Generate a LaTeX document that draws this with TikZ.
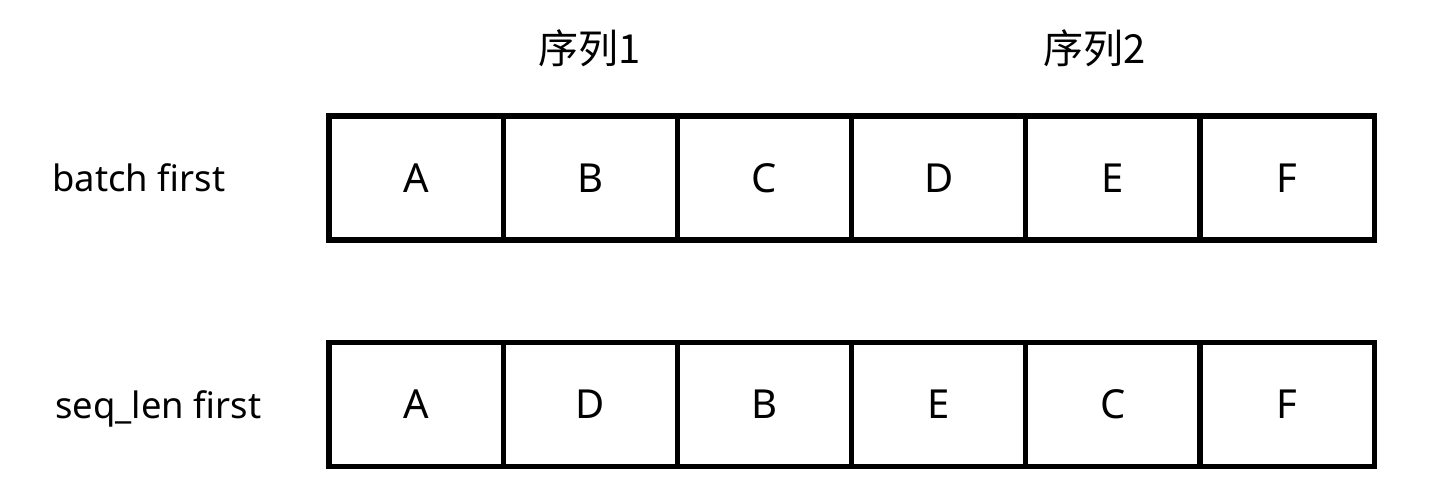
\documentclass[tikz,border=0pt]{standalone}
\usepackage{fontspec}
\setmainfont{Noto Sans}
\newfontfamily\cjk{Noto Sans CJK SC}
\usetikzlibrary{positioning}
\begin{document}
\begin{tikzpicture}[x=0.5pt,y=0.5pt,
    cell/.style={draw,line width=2.6pt,minimum width=87.1pt,minimum height=62pt,
        outer sep=0pt,inner sep=0pt,font=\fontsize{20}{24}\selectfont},
    rowlabel/.style={anchor=base west,inner sep=0pt,font=\fontsize{18.2}{22}\selectfont},
    seqlabel/.style={inner sep=0pt,font=\cjk\fontsize{20}{24}\selectfont}]
    \useasboundingbox (0,0) rectangle (1440,496);

    % Row labels
    \node[rowlabel] (batch) at (52,304)  {batch first};
    \node[rowlabel] (seq)   at (55,77.5) {seq\_len first};

    % Sequence labels
    \node[seqlabel] (seq1) at (590,448)  {序列1};
    \node[seqlabel] (seq2) at (1095,448) {序列2};

    % batch first cells
    \foreach \l [count=\i] in {A,B,C,D,E,F}
        \node[cell] (b\i) at ({416.1+174.2*(\i-1)},318) {\l};

    % seq_len first cells
    \foreach \l [count=\i] in {A,D,B,E,C,F}
        \node[cell] (s\i) at ({416.1+174.2*(\i-1)},91.5) {\l};
\end{tikzpicture}
\end{document}
